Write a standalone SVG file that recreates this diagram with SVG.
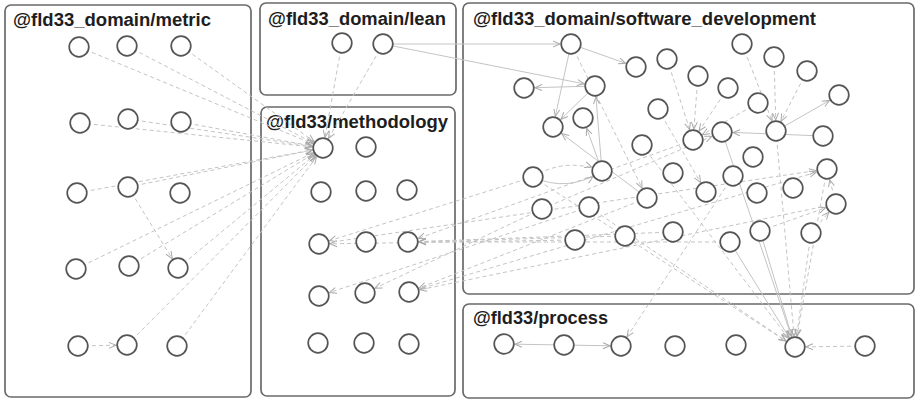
<svg xmlns="http://www.w3.org/2000/svg" width="916" height="400" viewBox="0 0 916 400">
  <defs>
    <style>
      .box { fill: #fff; stroke: #6a6a6a; stroke-width: 1.7; }
      .title { font-family: "Liberation Sans", Arial, sans-serif; font-weight: bold; font-size: 18px; fill: #1e1e1e; }
      .node circle { fill: #fff; stroke: #555; stroke-width: 1.7; }
      .e { fill: none; stroke: #c4c4c4; stroke-width: 1; marker-end: url(#arr); }
      .d { stroke-dasharray: 4 3; }
    </style>
    <!-- arrow tip sits just outside the target circle (line ends at the circle centre) -->
    <marker id="arr" viewBox="0 -5 22 10" markerWidth="22" markerHeight="10" refX="21" refY="0" orient="auto" markerUnits="userSpaceOnUse">
      <path d="M3,-3 L10,0 L3,3" fill="none" stroke="#aaa" stroke-width="1"/>
    </marker>
  </defs>

  <!-- package frames -->
  <g id="frames">
    <rect class="box" x="5" y="5" width="246" height="392" rx="6"/>
    <rect class="box" x="260" y="3" width="196" height="92" rx="6"/>
    <rect class="box" x="261" y="107" width="194" height="289" rx="6"/>
    <rect class="box" x="463" y="3" width="451" height="291" rx="6"/>
    <rect class="box" x="463" y="304" width="451" height="94" rx="6"/>
    <text class="title" x="13" y="26" textLength="198" lengthAdjust="spacingAndGlyphs">@fld33_domain/metric</text>
    <text class="title" x="268" y="25" textLength="178" lengthAdjust="spacingAndGlyphs">@fld33_domain/lean</text>
    <text class="title" x="266" y="128" textLength="182" lengthAdjust="spacingAndGlyphs">@fld33/methodology</text>
    <text class="title" x="473" y="25" textLength="343" lengthAdjust="spacingAndGlyphs">@fld33_domain/software_development</text>
    <text class="title" x="473" y="324" textLength="135" lengthAdjust="spacingAndGlyphs">@fld33/process</text>
  </g>

  <!-- dependencies -->
  <g id="connectors">
    <!-- metric and lean into methodology hub -->
    <line class="e d" x1="79" y1="47" x2="323" y2="148"/>
    <line class="e d" x1="127" y1="46" x2="323" y2="148"/>
    <line class="e d" x1="181" y1="46" x2="323" y2="148"/>
    <line class="e d" x1="80" y1="123" x2="323" y2="148"/>
    <line class="e d" x1="128" y1="119" x2="323" y2="148"/>
    <line class="e d" x1="181" y1="122" x2="323" y2="148"/>
    <line class="e d" x1="77" y1="193" x2="323" y2="148"/>
    <line class="e d" x1="128" y1="187" x2="323" y2="148"/>
    <line class="e d" x1="76" y1="269" x2="323" y2="148"/>
    <line class="e d" x1="129" y1="266" x2="323" y2="148"/>
    <line class="e d" x1="178" y1="268" x2="323" y2="148"/>
    <line class="e d" x1="127" y1="345" x2="323" y2="148"/>
    <line class="e d" x1="177" y1="346" x2="323" y2="148"/>
    <line class="e d" x1="342" y1="43" x2="323" y2="148"/>
    <line class="e d" x1="383" y1="44" x2="323" y2="148"/>
    <line class="e d" x1="128" y1="187" x2="178" y2="268"/>
    <line class="e d" x1="78" y1="346" x2="127" y2="345"/>

    <!-- lean into software_development -->
    <line class="e" x1="383" y1="44" x2="571" y2="44"/>
    <line class="e" x1="383" y1="44" x2="595" y2="86"/>

    <!-- software_development internal -->
    <line class="e" x1="571" y1="44" x2="636" y2="67"/>
    <line class="e" x1="571" y1="44" x2="553" y2="127"/>
    <line class="e d" x1="571" y1="44" x2="647" y2="198"/>
    <line class="e" x1="595" y1="86" x2="524" y2="88"/>
    <line class="e" x1="595" y1="86" x2="553" y2="127"/>
    <line class="e" x1="602" y1="171" x2="595" y2="86"/>
    <line class="e" x1="602" y1="171" x2="583" y2="118"/>
    <line class="e" x1="647" y1="198" x2="553" y2="127"/>
    <path class="e" d="M533,177 Q568,193 602,171"/>
    <path class="e d" d="M533,177 Q565,157 602,171"/>
    <line class="e d" x1="667" y1="59" x2="693" y2="140"/>
    <line class="e d" x1="698" y1="76" x2="693" y2="140"/>
    <line class="e d" x1="728" y1="88" x2="693" y2="140"/>
    <line class="e d" x1="758" y1="103" x2="693" y2="140"/>
    <line class="e d" x1="658" y1="109" x2="706" y2="192"/>
    <line class="e d" x1="742" y1="44" x2="776" y2="131"/>
    <line class="e d" x1="774" y1="57" x2="776" y2="131"/>
    <line class="e d" x1="807" y1="71" x2="776" y2="131"/>
    <line class="e" x1="776" y1="131" x2="839" y2="95"/>
    <line class="e" x1="823" y1="136" x2="722" y2="132"/>
    <line class="e d" x1="542" y1="209" x2="722" y2="132"/>
    <line class="e d" x1="836" y1="204" x2="827" y2="169"/>
    <line class="e d" x1="811" y1="233" x2="836" y2="204"/>
    <line class="e d" x1="760" y1="231" x2="836" y2="204"/>

    <!-- software_development into process -->
    <line class="e d" x1="776" y1="131" x2="795" y2="347"/>
    <line class="e" x1="722" y1="132" x2="795" y2="347"/>
    <line class="e" x1="730" y1="242" x2="795" y2="347"/>
    <line class="e" x1="760" y1="231" x2="795" y2="347"/>
    <line class="e d" x1="827" y1="169" x2="795" y2="347"/>
    <line class="e d" x1="811" y1="233" x2="795" y2="347"/>
    <line class="e d" x1="642" y1="145" x2="795" y2="347"/>
    <line class="e d" x1="533" y1="177" x2="795" y2="347"/>
    <line class="e d" x1="589" y1="207" x2="795" y2="347"/>
    <line class="e d" x1="733" y1="176" x2="621" y2="346"/>

    <!-- process internal -->
    <line class="e" x1="564" y1="345" x2="504" y2="344"/>
    <line class="e" x1="564" y1="345" x2="621" y2="346"/>
    <line class="e d" x1="865" y1="346" x2="795" y2="347"/>

    <!-- software_development and methodology -->
    <line class="e d" x1="533" y1="177" x2="319" y2="244"/>
    <line class="e d" x1="575" y1="240" x2="319" y2="244"/>
    <line class="e d" x1="730" y1="242" x2="408" y2="242"/>
    <line class="e d" x1="673" y1="232" x2="408" y2="242"/>
    <line class="e d" x1="625" y1="236" x2="408" y2="242"/>
    <line class="e d" x1="693" y1="140" x2="408" y2="242"/>
    <line class="e d" x1="589" y1="207" x2="319" y2="296"/>
    <line class="e d" x1="542" y1="209" x2="365" y2="293"/>
    <line class="e d" x1="836" y1="204" x2="409" y2="292"/>
    <line class="e d" x1="647" y1="198" x2="409" y2="292"/>
    <line class="e d" x1="319" y1="244" x2="827" y2="169"/>
    <line class="e d" x1="409" y1="292" x2="827" y2="169"/>
  </g>

  <!-- @fld33_domain/metric -->
  <g id="m1" class="node"><circle cx="79" cy="47" r="9.8"/></g>
  <g id="m2" class="node"><circle cx="127" cy="46" r="9.8"/></g>
  <g id="m3" class="node"><circle cx="181" cy="46" r="9.8"/></g>
  <g id="m4" class="node"><circle cx="80" cy="123" r="9.8"/></g>
  <g id="m5" class="node"><circle cx="128" cy="119" r="9.8"/></g>
  <g id="m6" class="node"><circle cx="181" cy="122" r="9.8"/></g>
  <g id="m7" class="node"><circle cx="77" cy="193" r="9.8"/></g>
  <g id="m8" class="node"><circle cx="128" cy="187" r="9.8"/></g>
  <g id="m9" class="node"><circle cx="180" cy="193" r="9.8"/></g>
  <g id="m10" class="node"><circle cx="76" cy="269" r="9.8"/></g>
  <g id="m11" class="node"><circle cx="129" cy="266" r="9.8"/></g>
  <g id="m12" class="node"><circle cx="178" cy="268" r="9.8"/></g>
  <g id="m13" class="node"><circle cx="78" cy="346" r="9.8"/></g>
  <g id="m14" class="node"><circle cx="127" cy="345" r="9.8"/></g>
  <g id="m15" class="node"><circle cx="177" cy="346" r="9.8"/></g>

  <!-- @fld33_domain/lean -->
  <g id="l1" class="node"><circle cx="342" cy="43" r="9.8"/></g>
  <g id="l2" class="node"><circle cx="383" cy="44" r="9.8"/></g>

  <!-- @fld33/methodology -->
  <g id="t1" class="node"><circle cx="323" cy="148" r="9.8"/></g>
  <g id="t2" class="node"><circle cx="366" cy="147" r="9.8"/></g>
  <g id="t3" class="node"><circle cx="321" cy="192" r="9.8"/></g>
  <g id="t4" class="node"><circle cx="366" cy="191" r="9.8"/></g>
  <g id="t5" class="node"><circle cx="407" cy="190" r="9.8"/></g>
  <g id="t6" class="node"><circle cx="319" cy="244" r="9.8"/></g>
  <g id="t7" class="node"><circle cx="366" cy="242" r="9.8"/></g>
  <g id="t8" class="node"><circle cx="408" cy="242" r="9.8"/></g>
  <g id="t9" class="node"><circle cx="319" cy="296" r="9.8"/></g>
  <g id="t10" class="node"><circle cx="365" cy="293" r="9.8"/></g>
  <g id="t11" class="node"><circle cx="409" cy="292" r="9.8"/></g>
  <g id="t12" class="node"><circle cx="318" cy="343" r="9.8"/></g>
  <g id="t13" class="node"><circle cx="364" cy="343" r="9.8"/></g>
  <g id="t14" class="node"><circle cx="409" cy="344" r="9.8"/></g>

  <!-- @fld33_domain/software_development -->
  <g id="s1" class="node"><circle cx="571" cy="44" r="9.8"/></g>
  <g id="s2" class="node"><circle cx="636" cy="67" r="9.8"/></g>
  <g id="s3" class="node"><circle cx="667" cy="59" r="9.8"/></g>
  <g id="s4" class="node"><circle cx="524" cy="88" r="9.8"/></g>
  <g id="s5" class="node"><circle cx="595" cy="86" r="9.8"/></g>
  <g id="s6" class="node"><circle cx="658" cy="109" r="9.8"/></g>
  <g id="s7" class="node"><circle cx="583" cy="118" r="9.8"/></g>
  <g id="s8" class="node"><circle cx="553" cy="127" r="9.8"/></g>
  <g id="s9" class="node"><circle cx="642" cy="145" r="9.8"/></g>
  <g id="s10" class="node"><circle cx="693" cy="140" r="9.8"/></g>
  <g id="s11" class="node"><circle cx="742" cy="44" r="9.8"/></g>
  <g id="s12" class="node"><circle cx="774" cy="57" r="9.8"/></g>
  <g id="s13" class="node"><circle cx="807" cy="71" r="9.8"/></g>
  <g id="s14" class="node"><circle cx="839" cy="95" r="9.8"/></g>
  <g id="s15" class="node"><circle cx="698" cy="76" r="9.8"/></g>
  <g id="s16" class="node"><circle cx="728" cy="88" r="9.8"/></g>
  <g id="s17" class="node"><circle cx="758" cy="103" r="9.8"/></g>
  <g id="s18" class="node"><circle cx="722" cy="132" r="9.8"/></g>
  <g id="s19" class="node"><circle cx="776" cy="131" r="9.8"/></g>
  <g id="s20" class="node"><circle cx="823" cy="136" r="9.8"/></g>
  <g id="s21" class="node"><circle cx="533" cy="177" r="9.8"/></g>
  <g id="s22" class="node"><circle cx="602" cy="171" r="9.8"/></g>
  <g id="s23" class="node"><circle cx="673" cy="173" r="9.8"/></g>
  <g id="s24" class="node"><circle cx="647" cy="198" r="9.8"/></g>
  <g id="s25" class="node"><circle cx="542" cy="209" r="9.8"/></g>
  <g id="s26" class="node"><circle cx="589" cy="207" r="9.8"/></g>
  <g id="s27" class="node"><circle cx="575" cy="240" r="9.8"/></g>
  <g id="s28" class="node"><circle cx="625" cy="236" r="9.8"/></g>
  <g id="s29" class="node"><circle cx="673" cy="232" r="9.8"/></g>
  <g id="s30" class="node"><circle cx="753" cy="157" r="9.8"/></g>
  <g id="s31" class="node"><circle cx="733" cy="176" r="9.8"/></g>
  <g id="s32" class="node"><circle cx="706" cy="192" r="9.8"/></g>
  <g id="s33" class="node"><circle cx="757" cy="193" r="9.8"/></g>
  <g id="s34" class="node"><circle cx="793" cy="188" r="9.8"/></g>
  <g id="s35" class="node"><circle cx="827" cy="169" r="9.8"/></g>
  <g id="s36" class="node"><circle cx="836" cy="204" r="9.8"/></g>
  <g id="s37" class="node"><circle cx="760" cy="231" r="9.8"/></g>
  <g id="s38" class="node"><circle cx="730" cy="242" r="9.8"/></g>
  <g id="s39" class="node"><circle cx="811" cy="233" r="9.8"/></g>

  <!-- @fld33/process -->
  <g id="p1" class="node"><circle cx="504" cy="344" r="9.8"/></g>
  <g id="p2" class="node"><circle cx="564" cy="345" r="9.8"/></g>
  <g id="p3" class="node"><circle cx="621" cy="346" r="9.8"/></g>
  <g id="p4" class="node"><circle cx="675" cy="346" r="9.8"/></g>
  <g id="p5" class="node"><circle cx="736" cy="345" r="9.8"/></g>
  <g id="p6" class="node"><circle cx="795" cy="347" r="9.8"/></g>
  <g id="p7" class="node"><circle cx="865" cy="346" r="9.8"/></g>
</svg>
